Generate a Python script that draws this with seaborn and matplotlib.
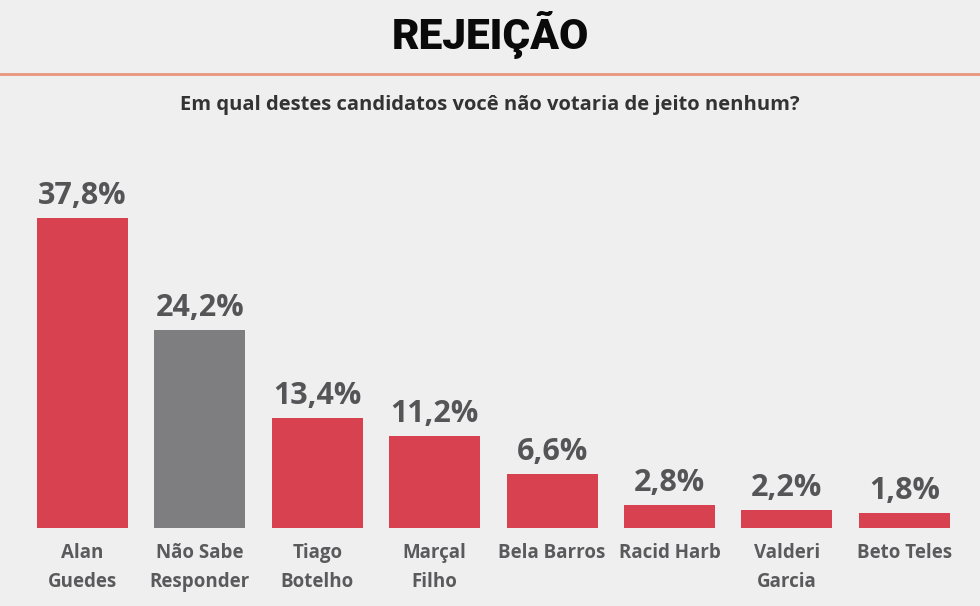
import matplotlib
matplotlib.use("Agg")
import matplotlib.pyplot as plt
import seaborn as sns
import pandas as pd

categories = ["Alan\nGuedes", "Não Sabe\nResponder", "Tiago\nBotelho", "Marçal\nFilho",
              "Bela Barros", "Racid Harb", "Valderi\nGarcia", "Beto Teles"]
values = [37.8, 24.2, 13.4, 11.2, 6.6, 2.8, 2.2, 1.8]
value_labels = ["37,8%", "24,2%", "13,4%", "11,2%", "6,6%", "2,8%", "2,2%", "1,8%"]
title = "REJEIÇÃO"
subtitle = "Em qual destes candidatos você não votaria de jeito nenhum?"

RED = "#D8414F"
GRAY = "#7E7D80"
BG = "#F0EFF0"
colors = [GRAY if c.startswith("Não") else RED for c in categories]

sns.set_theme(style="white")
plt.rcParams["font.family"] = ["Open Sans", "DejaVu Sans"]

df = pd.DataFrame({"cand": categories, "val": values})

fig = plt.figure(figsize=(9.8, 6.06), dpi=100, facecolor=BG)
ax = fig.add_axes([0.0243, 0.1287, 0.9584, 0.5413])
ax.set_facecolor(BG)
sns.barplot(data=df, x="cand", y="val", hue="cand", palette=colors, legend=False,
            width=0.775, saturation=1, linewidth=0, edgecolor="none", ax=ax)
ax.set_ylim(0, 40)
ax.set_xlim(-0.5, len(categories) - 0.5)
for s in ax.spines.values():
    s.set_visible(False)
ax.set_yticks([])
ax.set_xlabel("")
ax.set_ylabel("")
ax.tick_params(axis="x", length=0, pad=11)
for lbl in ax.get_xticklabels():
    lbl.set_fontsize(13.5)
    lbl.set_fontweight("bold")
    lbl.set_color("#5A5A5C")
    lbl.set_linespacing(1.6)

bars = [b for c in ax.containers for b in c]
for bar, txt in zip(bars, value_labels):
    ax.annotate(txt, (bar.get_x() + bar.get_width() / 2, bar.get_height()),
                xytext=(0, 5), textcoords="offset points", ha="center", va="bottom",
                fontsize=22, fontweight="bold", color="#555557")

fig.text(0.5, 0.942, title, ha="center", va="center", fontsize=30.5, fontweight="heavy",
         color="#0A0A0A", family=["Roboto", "DejaVu Sans"])
fig.add_artist(plt.Line2D([0, 1], [1 - 74 / 606, 1 - 74 / 606], transform=fig.transFigure,
                          color="#E8967C", linewidth=2))
fig.text(0.5, 1 - 105 / 606, subtitle, ha="center", va="center", fontsize=14.5,
         fontweight="bold", color="#333333")

fig.savefig("out.png", dpi=100, facecolor=BG)
